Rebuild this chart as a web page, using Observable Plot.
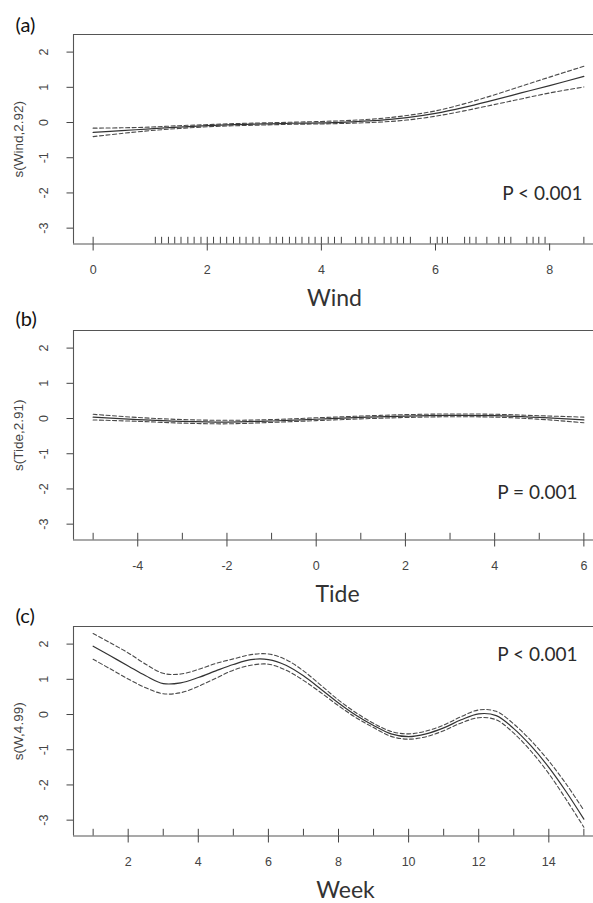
<!DOCTYPE html>
<html>
<head>
<meta charset="utf-8">
<script src="https://cdn.jsdelivr.net/npm/d3@7"></script>
<script src="https://cdn.jsdelivr.net/npm/@observablehq/plot@0.6"></script>
<style>
  html, body { margin: 0; padding: 0; background: #fff; overflow: hidden; }
  #wrap { position: relative; width: 593px; height: 903px; background: #fff; }
  #wrap svg { position: absolute; left: 0; }
</style>
</head>
<body>
<div id="wrap"></div>
<script>
// ---------- data ----------
const yTicks = [-3, -2, -1, 0, 1, 2];

// (a) Wind
const windX     = [0, 0.5, 1, 1.5, 2, 2.5, 3, 3.5, 4, 4.5, 5, 5.5, 6, 6.5, 7, 7.5, 8, 8.6];
const windFit   = [-0.28, -0.23, -0.18, -0.13, -0.09, -0.06, -0.04, -0.02, -0.01, 0.02, 0.06, 0.14, 0.26, 0.43, 0.63, 0.84, 1.05, 1.31];
const windUpper = [-0.16, -0.15, -0.13, -0.09, -0.06, -0.03, -0.01, 0.01, 0.03, 0.06, 0.11, 0.20, 0.33, 0.53, 0.77, 1.03, 1.29, 1.60];
const windLower = [-0.40, -0.31, -0.23, -0.17, -0.12, -0.09, -0.07, -0.05, -0.04, -0.02, 0.01, 0.07, 0.18, 0.33, 0.50, 0.67, 0.84, 1.01];
const windRug   = [0, 1.09, 1.2, 1.32, 1.43, 1.54, 1.66, 1.77, 1.89, 2.0, 2.11, 2.23, 2.34, 2.46, 2.57, 2.68, 2.8, 2.91,
                   3.1, 3.21, 3.32, 3.44, 3.55, 3.66, 3.78, 3.89, 4.0, 4.12, 4.23, 4.35, 4.6, 4.71, 4.83, 4.94,
                   5.1, 5.22, 5.33, 5.44, 5.56, 5.91, 6.03, 6.12, 6.21, 6.51, 6.6, 6.71, 6.9, 7.11, 7.21, 7.32,
                   7.6, 7.71, 7.81, 7.92, 8.6];
const windTicks = [0, 2, 4, 6, 8];

// (b) Tide
const tideX     = [-5, -4, -3, -2, -1, 0, 1, 2, 3, 4, 5, 6];
const tideFit   = [0.04, -0.03, -0.08, -0.10, -0.07, -0.02, 0.03, 0.07, 0.09, 0.08, 0.03, -0.04];
const tideUpper = [0.12, 0.03, -0.03, -0.05, -0.03, 0.02, 0.07, 0.11, 0.13, 0.12, 0.08, 0.04];
const tideLower = [-0.04, -0.08, -0.13, -0.15, -0.11, -0.06, -0.01, 0.03, 0.05, 0.04, -0.02, -0.12];
const tideRug   = [-5, -4, -3, -2, -1, 0, 1, 2, 3, 4, 5, 6];
const tideTicks = [-4, -2, 0, 2, 4, 6];

// (c) Week
const weekX     = [1, 1.5, 2, 2.5, 3, 3.5, 4, 4.5, 5, 5.5, 6, 6.5, 7, 7.5, 8, 8.5, 9, 9.5, 10, 10.5, 11, 11.5, 12, 12.5, 13, 13.5, 14, 14.5, 15];
const weekFit   = [1.94, 1.66, 1.38, 1.10, 0.88, 0.90, 1.05, 1.24, 1.42, 1.56, 1.56, 1.40, 1.10, 0.72, 0.33, -0.02, -0.31, -0.55, -0.63, -0.55, -0.38, -0.15, 0.02, -0.03, -0.40, -0.90, -1.50, -2.20, -2.97];
const weekUpper = [2.30, 2.03, 1.75, 1.43, 1.17, 1.15, 1.28, 1.45, 1.58, 1.70, 1.72, 1.56, 1.24, 0.83, 0.41, 0.05, -0.25, -0.48, -0.55, -0.47, -0.30, -0.06, 0.13, 0.09, -0.27, -0.75, -1.32, -1.98, -2.72];
const weekLower = [1.57, 1.29, 1.01, 0.76, 0.59, 0.62, 0.80, 1.03, 1.26, 1.40, 1.43, 1.26, 0.97, 0.62, 0.25, -0.09, -0.37, -0.62, -0.70, -0.63, -0.46, -0.24, -0.09, -0.15, -0.53, -1.05, -1.68, -2.42, -3.20];
const weekRug   = [1, 2, 3, 4, 5, 6, 7, 8, 9, 10, 11, 12, 13, 14, 15];
const weekTicks = [2, 4, 6, 8, 10, 12, 14];

// ---------- drawing ----------
const Y_DOMAIN = [-3.45, 2.5];
const RUG_LEN = 0.19;
const INK = "#444";
const TXT = "#2b2b2b";

function panel(cfg) {
  const rows = cfg.xs.map((x, i) => ({x, fit: cfg.fit[i], upper: cfg.upper[i], lower: cfg.lower[i]}));
  const ext = (cfg.xs[cfg.xs.length - 1] - cfg.xs[0]) * 0.04;
  const xDomain = [cfg.xs[0] - ext, cfg.xs[cfg.xs.length - 1] + ext];
  const svg = Plot.plot({
    width: 593,
    height: 311,
    marginTop: 34,
    marginBottom: 67.5,
    marginLeft: 73,
    marginRight: 0,
    style: {background: "transparent", overflow: "visible", fontFamily: "'Liberation Sans', Arial, sans-serif"},
    x: {domain: xDomain, range: [73, 603]},
    y: {domain: Y_DOMAIN},
    marks: [
      Plot.ruleY([Y_DOMAIN[1]], {stroke: "#555", strokeWidth: 1.1}),
      Plot.ruleY([Y_DOMAIN[0]], {stroke: "#555", strokeWidth: 1.1}),
      Plot.ruleX([xDomain[0]], {y1: Y_DOMAIN[0], y2: Y_DOMAIN[1], stroke: "#555", strokeWidth: 1.1}),
      Plot.axisX({ticks: cfg.ticks, tickSize: 7, tickPadding: 14, fontSize: 12.5, color: INK,
                  tickFormat: d => String(d), label: null}),
      Plot.axisY({ticks: yTicks, tickSize: 6.5, tickFormat: () => "", color: INK, label: null}),
      Plot.text(yTicks, {y: d => d, text: d => String(d), frameAnchor: "left", dx: -30, rotate: -90,
                         textAnchor: "middle", lineAnchor: "middle", fontSize: 12.5, fill: INK}),
      Plot.text([cfg.yLabel], {frameAnchor: "left", dx: -55, rotate: -90, textAnchor: "middle",
                               lineAnchor: "middle", fontSize: 13.5, fill: INK}),
      Plot.ruleX(cfg.rug, {x: d => d, y1: Y_DOMAIN[0], y2: Y_DOMAIN[0] + RUG_LEN, stroke: INK, strokeWidth: 1}),
      Plot.line(rows, {x: "x", y: "upper", stroke: "#4a4a4a", strokeWidth: 1.1, strokeDasharray: "4,2.5", curve: "catmull-rom"}),
      Plot.line(rows, {x: "x", y: "lower", stroke: "#4a4a4a", strokeWidth: 1.1, strokeDasharray: "4,2.5", curve: "catmull-rom"}),
      Plot.line(rows, {x: "x", y: "fit", stroke: "#333", strokeWidth: 1.2, curve: "catmull-rom"}),
      Plot.text([cfg.pText], {frameAnchor: "top-right", textAnchor: "end", lineAnchor: "bottom",
                              dx: cfg.pDx, dy: cfg.pDy, fontFamily: "Lato, 'Open Sans', sans-serif",
                              fontSize: 19, fill: TXT}),
      Plot.text([cfg.tag], {frameAnchor: "top-left", textAnchor: "start", lineAnchor: "bottom",
                            dx: -58, dy: cfg.tagDy, fontFamily: "Lato, 'Open Sans', sans-serif",
                            fontSize: 20, fill: "#111"}),
      Plot.text([cfg.xLabel], {frameAnchor: "bottom", lineAnchor: "bottom", textAnchor: "middle",
                               dx: cfg.xLabelDx, dy: 62, fontFamily: "Lato, 'Open Sans', sans-serif",
                               fontSize: 23, fill: "#333"})
    ]
  });
  svg.style.top = cfg.top + "px";
  return svg;
}

const wrap = document.getElementById("wrap");
wrap.appendChild(panel({
  top: 0, xs: windX, fit: windFit, upper: windUpper, lower: windLower, rug: windRug, ticks: windTicks,
  yLabel: "s(Wind,2.92)", xLabel: "Wind", xLabelDx: 1, pText: "P < 0.001", pDx: -11, pDy: 165.5,
  tag: "(a)", tagDy: -2.5
}));
wrap.appendChild(panel({
  top: 296, xs: tideX, fit: tideFit, upper: tideUpper, lower: tideLower, rug: tideRug, ticks: tideTicks,
  yLabel: "s(Tide,2.91)", xLabel: "Tide", xLabelDx: 4, pText: "P = 0.001", pDx: -16, pDy: 168,
  tag: "(b)", tagDy: -4.5
}));
wrap.appendChild(panel({
  top: 592, xs: weekX, fit: weekFit, upper: weekUpper, lower: weekLower, rug: weekRug, ticks: weekTicks,
  yLabel: "s(W,4.99)", xLabel: "Week", xLabelDx: 12, pText: "P < 0.001", pDx: -16, pDy: 34.5,
  tag: "(c)", tagDy: -4
}));
</script>
</body>
</html>
